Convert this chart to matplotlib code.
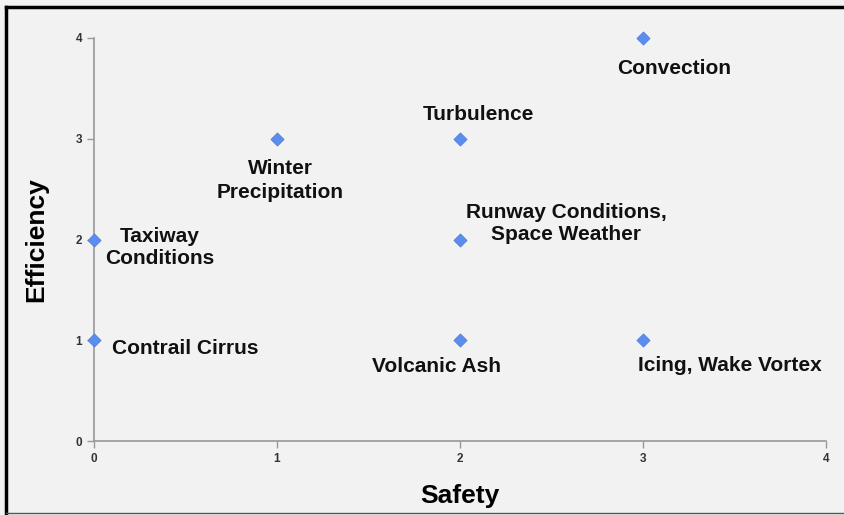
import matplotlib.pyplot as plt
from matplotlib.lines import Line2D

# hazard categories, safety score, efficiency score
labels = ["Convection", "Turbulence", "Winter\nPrecipitation", "Taxiway\nConditions",
          "Runway Conditions,\nSpace Weather", "Contrail Cirrus", "Volcanic Ash",
          "Icing, Wake Vortex"]
safety = [3, 2, 1, 0, 2, 0, 2, 3]
efficiency = [4, 3, 3, 2, 2, 1, 1, 1]
# label offsets (pixels) relative to each marker
offsets = [(31, -30), (18, 24), (3, -42), (66, -8), (106, 16), (91, -8), (-23, -26), (87, -25)]
spacing = [1.15, 1.15, 1.3, 1.15, 1.15, 1.15, 1.15, 1.15]

plt.rcParams['font.family'] = ['Liberation Sans', 'DejaVu Sans']
bg = '#f2f2f2'

fig = plt.figure(figsize=(8.44, 5.15), dpi=100, facecolor=bg)
ax = fig.add_axes([94 / 844, 1 - 441 / 515, 732 / 844, 403 / 515], facecolor=bg)

ax.scatter(safety, efficiency, marker='D', s=45, color='#5b8def', edgecolor='#4a78d6',
           linewidth=0.5, zorder=3, clip_on=False)

for lab, x, y, (dx, dy), ls in zip(labels, safety, efficiency, offsets, spacing):
    ax.annotate(lab, (x, y), xytext=(dx * 0.72, dy * 0.72), textcoords='offset points',
                ha='center', va='center', fontsize=15, fontweight='bold',
                color='#111111', linespacing=ls)

ax.set_xlim(0, 4)
ax.set_ylim(0, 4)
ax.set_xticks([0, 1, 2, 3, 4])
ax.set_yticks([0, 1, 2, 3, 4])
for s in ['top', 'right']:
    ax.spines[s].set_visible(False)
for s in ['left', 'bottom']:
    ax.spines[s].set_color('#999999')
    ax.spines[s].set_linewidth(1.2)
ax.tick_params(colors='#999999', length=5, width=1, labelsize=8.5, labelcolor='#333333')
for t in ax.get_xticklabels() + ax.get_yticklabels():
    t.set_fontweight('bold')

ax.set_xlabel('Safety', fontsize=19, fontweight='bold', labelpad=14)
ax.set_ylabel('Efficiency', fontsize=19, fontweight='bold', labelpad=20)

# frame around the figure
fig.add_artist(Line2D([5.5 / 844, 5.5 / 844], [0, 1 - 6.5 / 515], color='black', lw=2.5))
fig.add_artist(Line2D([5.5 / 844, 1], [1 - 6.5 / 515, 1 - 6.5 / 515], color='black', lw=2.5))
fig.add_artist(Line2D([5.5 / 844, 1], [2 / 515, 2 / 515], color='#555555', lw=1))

fig.savefig('out.png', dpi=100, facecolor=bg)
